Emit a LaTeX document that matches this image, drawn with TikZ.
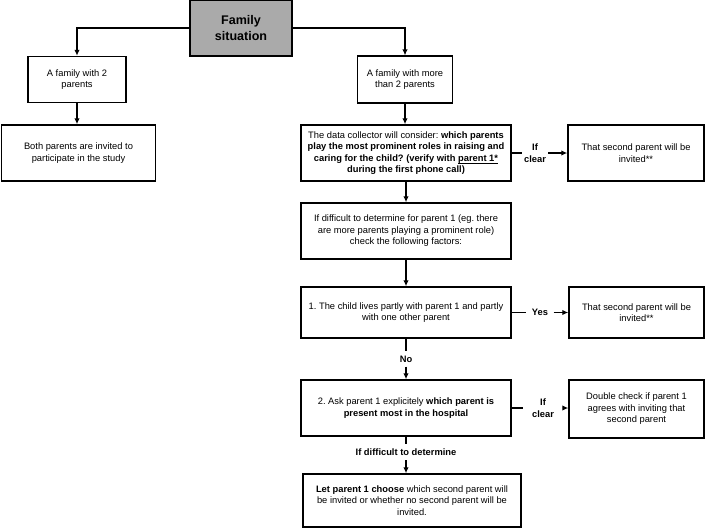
\documentclass[tikz,border=0pt]{standalone}
\usepackage{fontspec}
\setmainfont{Liberation Sans}
\usetikzlibrary{arrows.meta}

\begin{document}
\begin{tikzpicture}[x=0.75pt,y=0.75pt,yscale=-1,xscale=1,
  box/.style={draw, line width=1pt, align=center, inner sep=1pt, font=\fontsize{7}{8.6}\selectfont\frenchspacing},
  lbl/.style={inner sep=2pt, align=center, font=\fontsize{7}{8.6}\selectfont\bfseries},
  arr/.style={line width=1pt, -{Latex[length=4.5pt,width=4pt]}},
  ln/.style={line width=1pt}]
\useasboundingbox (0,0) rectangle (709,528);

%Shape: Rectangle (top)
\node [box, fill={rgb, 255:red, 170; green, 170; blue, 170}, minimum width=76.5pt, minimum height=42pt,
  font=\fontsize{9.4}{11.4}\selectfont\bfseries] (fam) at (241,28) {Family\\situation};

%Shape: Rectangle (left column)
\node [box, minimum width=73.5pt, minimum height=34.5pt] (two) at (77,79.5) {A family with 2\\parents};
\node [box, minimum width=115.5pt, minimum height=42pt] (both) at (78.5,153) {Both parents are invited to\\participate in the study};

%Shape: Rectangle (middle column)
\node [box, minimum width=71.25pt, minimum height=35pt] (more) at (405,79.5) {A family with more\\than 2 parents};
\node [box, minimum width=157.5pt, minimum height=42pt] (coll) at (406,153) {The data collector will consider: \textbf{which parents}\\\textbf{play the most prominent roles in raising and}\\\textbf{caring for the child? (verify with \underline{\smash{parent 1*}}}\\\textbf{during the first phone call)}};
\node [box, minimum width=157.5pt, minimum height=42pt] (diff) at (406,231) {If difficult to determine for parent 1 (eg. there\\are more parents playing a prominent role)\\check the following factors:};
\node [box, minimum width=157.5pt, minimum height=38.25pt] (lives) at (406,312.5) {1. The child lives partly with parent 1 and partly\\with one other parent};
\node [box, minimum width=157.5pt, minimum height=42pt] (ask) at (406,408) {2. Ask parent 1 explicitely \textbf{which parent is}\\\textbf{present most in the hospital}};
\node [box, minimum width=163.5pt, minimum height=39.75pt] (choose) at (412,500.5) {\textbf{Let parent 1 choose} which second parent will\\be invited or whether no second parent will be\\invited.};

%Shape: Rectangle (right column)
\node [box, minimum width=102pt, minimum height=42pt] (inv1) at (636,153) {That second parent will be\\invited**};
\node [box, minimum width=101.25pt, minimum height=38.25pt] (inv2) at (636.5,312.5) {That second parent will be\\invited**};
\node [box, minimum width=101.25pt, minimum height=43.5pt] (check) at (636.5,409) {Double check if parent 1\\agrees with inviting that\\second parent};

% Text Node
\node [lbl, inner xsep=1.5pt] (clear1) at (535,153) {If\\clear};
\node [lbl, inner xsep=4pt] (yes) at (540,312.5) {Yes};
\node [lbl, inner ysep=3pt] (no) at (406,359) {No};
\node [lbl, inner xsep=7pt] (clear2) at (543,408) {If\\clear};
\node [lbl, inner ysep=3.5pt] (hard) at (406,452) {If difficult to determine};

%Straight Lines
\draw [arr] (fam.west) -| (two.north);
\draw [arr] (fam.east) -| (more.north);
\draw [arr] (two.south) -- (two.south |- both.north);
\draw [arr] (more.south) -- (more.south |- coll.north);
\draw [ln] (coll.east) -- (clear1.west);
\draw [arr] (clear1.east) -- (inv1.west);
\draw [arr] (coll.south) -- (diff.north);
\draw [arr] (diff.south) -- (lives.north);
\draw [ln] (lives.east) -- (yes.west);
\draw [arr] (yes.east) -- (inv2.west);
\draw [ln] (lives.south) -- (no.north);
\draw [arr] (no.south) -- (ask.north);
\draw [ln] (ask.east) -- (clear2.west);
\draw [arr] (clear2.east) -- (clear2.east -| check.west);
\draw [ln] (ask.south) -- (hard.north);
\draw [arr] (hard.south) -- (hard.south -| ask.south) -- (ask.south |- choose.north);

\end{tikzpicture}
\end{document}
